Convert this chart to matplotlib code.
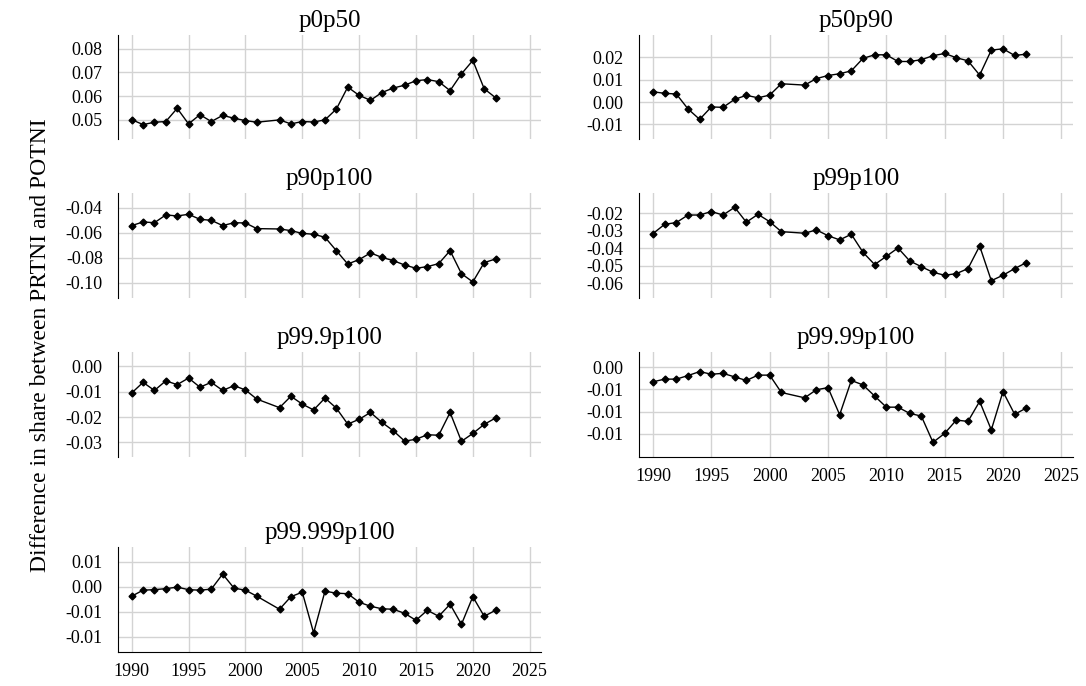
import matplotlib
matplotlib.use('Agg')
import matplotlib.pyplot as plt
from matplotlib.ticker import FormatStrFormatter

# Years (2002 is missing in the source data)
years = [1990, 1991, 1992, 1993, 1994, 1995, 1996, 1997, 1998, 1999, 2000, 2001,
         2003, 2004, 2005, 2006, 2007, 2008, 2009, 2010, 2011, 2012, 2013, 2014,
         2015, 2016, 2017, 2018, 2019, 2020, 2021, 2022]

p0p50 = [0.0500, 0.0479, 0.0489, 0.0492, 0.0548, 0.0482, 0.0521, 0.0492, 0.0518, 0.0506,
         0.0496, 0.0489, 0.0499, 0.0482, 0.0492, 0.0490, 0.0499, 0.0545, 0.0638, 0.0603,
         0.0582, 0.0615, 0.0634, 0.0646, 0.0665, 0.0670, 0.0661, 0.0623, 0.0694, 0.0751,
         0.0631, 0.0593]

p50p90 = [0.0046, 0.0039, 0.0036, -0.0031, -0.0078, -0.0022, -0.0024, 0.0012, 0.0030, 0.0019,
          0.0031, 0.0082, 0.0076, 0.0105, 0.0119, 0.0127, 0.0140, 0.0196, 0.0212, 0.0212,
          0.0182, 0.0182, 0.0190, 0.0208, 0.0218, 0.0199, 0.0185, 0.0121, 0.0233, 0.0239,
          0.0209, 0.0215]

p90p100 = [-0.0543, -0.0514, -0.0520, -0.0458, -0.0466, -0.0453, -0.0493, -0.0501, -0.0543, -0.0520,
           -0.0522, -0.0567, -0.0570, -0.0583, -0.0605, -0.0612, -0.0636, -0.0743, -0.0849, -0.0814,
           -0.0761, -0.0796, -0.0822, -0.0857, -0.0883, -0.0870, -0.0846, -0.0743, -0.0926, -0.0992,
           -0.0838, -0.0809]

p99p100 = [-0.0316, -0.0263, -0.0253, -0.0210, -0.0210, -0.0190, -0.0210, -0.0166, -0.0251, -0.0206,
           -0.0248, -0.0305, -0.0314, -0.0295, -0.0328, -0.0352, -0.0320, -0.0423, -0.0493, -0.0446,
           -0.0398, -0.0472, -0.0505, -0.0537, -0.0554, -0.0545, -0.0516, -0.0387, -0.0585, -0.0554,
           -0.0516, -0.0482]

p999p100 = [-0.0105, -0.0063, -0.0095, -0.0057, -0.0072, -0.0046, -0.0082, -0.0063, -0.0095, -0.0076,
            -0.0093, -0.0129, -0.0163, -0.0118, -0.0149, -0.0172, -0.0125, -0.0165, -0.0228, -0.0209,
            -0.0182, -0.0221, -0.0254, -0.0295, -0.0288, -0.0270, -0.0272, -0.0182, -0.0296, -0.0265,
            -0.0229, -0.0204]

p9999p100 = [-0.0033, -0.0027, -0.0027, -0.0019, -0.0010, -0.0016, -0.0014, -0.0022, -0.0030, -0.0018,
             -0.0018, -0.0057, -0.0069, -0.0051, -0.0046, -0.0107, -0.0030, -0.0040, -0.0065, -0.0090,
             -0.0090, -0.0104, -0.0110, -0.0169, -0.0149, -0.0119, -0.0122, -0.0077, -0.0141, -0.0055,
             -0.0106, -0.0092]

p99999p100 = [-0.0019, -0.0007, -0.0006, -0.0004, -0.0001, -0.0006, -0.0007, -0.0005, 0.0025, -0.0003,
              -0.0007, -0.0019, -0.0045, -0.0020, -0.0011, -0.0092, -0.0009, -0.0013, -0.0014, -0.0031,
              -0.0039, -0.0044, -0.0045, -0.0053, -0.0067, -0.0047, -0.0059, -0.0035, -0.0075, -0.0020,
              -0.0059, -0.0047]

titles = ['p0p50', 'p50p90', 'p90p100', 'p99p100', 'p99.9p100', 'p99.99p100', 'p99.999p100']
series = [p0p50, p50p90, p90p100, p99p100, p999p100, p9999p100, p99999p100]

# Ticks and ranges of each panel
yticks = [[0.05, 0.06, 0.07, 0.08],
          [-0.01, 0.0, 0.01, 0.02],
          [-0.10, -0.08, -0.06, -0.04],
          [-0.06, -0.05, -0.04, -0.03, -0.02],
          [-0.03, -0.02, -0.01, 0.0],
          [-0.015, -0.01, -0.005, 0.0],
          [-0.01, -0.005, 0.0, 0.005]]
ylims = [(0.0418, 0.0859), (-0.0166, 0.0301), (-0.112, -0.0283), (-0.0684, -0.0084),
         (-0.0358, 0.0057), (-0.0202, 0.0034), (-0.0130, 0.0079)]
xticks = [1990, 1995, 2000, 2005, 2010, 2015, 2020, 2025]

plt.rcParams['font.family'] = ['Liberation Serif', 'DejaVu Serif']
plt.rcParams['axes.unicode_minus'] = False

fig = plt.figure(figsize=(10.86, 6.86), dpi=100)

# Axes positions [left, bottom, width, height] in figure fraction
col_x = [(0.1087, 0.3895), (0.5884, 0.3996)]
row_y = [(0.7974, 0.1516), (0.5656, 0.1531), (0.3338, 0.1531), (0.0496, 0.1531)]

for i, (titulo, valores) in enumerate(zip(titles, series)):
    fila, col = divmod(i, 2)
    x0, w = col_x[col]
    y0, h = row_y[fila]
    ax = fig.add_axes([x0, y0, w, h])
    ax.plot(years, valores, color='black', linewidth=1, marker='D', markersize=3.5, zorder=3)
    ax.set_title(titulo, fontsize=18, pad=6)
    ax.set_xlim(1988.8, 2026)
    ax.set_ylim(*ylims[i])
    ax.set_xticks(xticks)
    ax.set_yticks(yticks[i])
    ax.yaxis.set_major_formatter(FormatStrFormatter('%.2f'))
    ax.grid(True, color='#d3d3d3', linewidth=1)
    ax.set_axisbelow(True)
    ax.tick_params(length=0, labelsize=13)
    ax.tick_params(axis='y', pad=11)
    ax.tick_params(axis='x', pad=8)
    for lado in ['top', 'right']:
        ax.spines[lado].set_visible(False)
    ax.spines['left'].set_color('black')
    # Solo las graficas de abajo de cada columna llevan eje x
    if titulo in ('p99.99p100', 'p99.999p100'):
        ax.spines['bottom'].set_color('black')
    else:
        ax.spines['bottom'].set_visible(False)
        ax.tick_params(labelbottom=False)

fig.text(0.037, 0.497, 'Difference in share between PRTNI and POTNI', rotation=90,
         va='center', ha='center', fontsize=17)

fig.savefig('out.png', dpi=100)
